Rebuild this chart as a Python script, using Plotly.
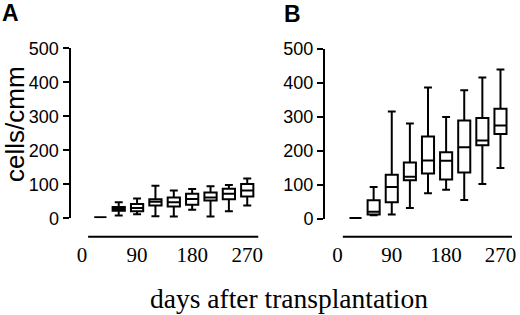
import plotly.graph_objects as go

W, H = 520, 315

# ---- data (cells/cmm, box statistics per time point) ----
days = [30, 60, 90, 120, 150, 180, 210, 240, 270]

a_min = [3, 8, 12, 6, 5, 25, 5, 21, 38]
a_q1 = [3, 22, 21, 38, 35, 40, 52, 56, 64]
a_med = [3, 27, 30, 49, 47, 57, 61, 72, 82]
a_q3 = [3, 33, 42, 56, 61, 72, 76, 87, 101]
a_max = [3, 47, 58, 96, 82, 86, 94, 98, 117]

b_min = [3, 11, 13, 32, 76, 86, 56, 103, 150]
b_q1 = [3, 13, 49, 114, 134, 116, 137, 217, 250]
b_med = [3, 21, 94, 124, 172, 171, 211, 231, 275]
b_q3 = [3, 55, 130, 166, 243, 196, 290, 297, 324]
b_max = [3, 94, 316, 281, 387, 300, 379, 416, 440]

y_ticks = [0, 100, 200, 300, 400, 500]
x_ticks = [0, 90, 180, 270]
x_tick_text = ["0", "90", "180", "270"]

panel_labels = ["A", "B"]
y_title = "cells/cmm"
x_title = "days after transplantation"


def px_x(p):
    return p / W


def px_y(p):
    return 1 - p / H


fig = go.Figure()

box_style = dict(
    line=dict(color="black", width=2),
    fillcolor="white",
    whiskerwidth=0.65,
    width=20,
    boxpoints=False,
    hoverinfo="skip",
    showlegend=False,
)

fig.add_trace(go.Box(x=days, q1=a_q1, median=a_med, q3=a_q3,
                     lowerfence=a_min, upperfence=a_max,
                     xaxis="x", yaxis="y", **box_style))
fig.add_trace(go.Box(x=days, q1=b_q1, median=b_med, q3=b_q3,
                     lowerfence=b_min, upperfence=b_max,
                     xaxis="x2", yaxis="y2", **box_style))

xr = [0, 290]
yfont = dict(family="Liberation Sans, Arial", size=18, color="black")
xfont = dict(family="Liberation Serif, Times New Roman", size=21, color="black")

yax = dict(range=[0, 500], tickvals=y_ticks, ticks="outside", ticklen=6,
           tickwidth=2, tickcolor="black", showline=True, linewidth=2,
           linecolor="black", showgrid=False, zeroline=False,
           tickfont=yfont, anchor="free", fixedrange=True, automargin=False)
xax = dict(range=xr, tickvals=x_ticks, ticktext=x_tick_text, ticks="",
           showline=False, showgrid=False, zeroline=False, tickfont=xfont,
           anchor="free", position=px_y(236.7), fixedrange=True,
           automargin=False, ticklabelstandoff=3)

fig.update_layout(
    template="none",
    width=W, height=H,
    margin=dict(l=0, r=0, t=0, b=0, autoexpand=False),
    paper_bgcolor="white", plot_bgcolor="white",
    xaxis=dict(domain=[px_x(82), px_x(82 + 290 * 0.612)], **xax),
    xaxis2=dict(domain=[px_x(337.4), px_x(337.4 + 290 * 0.604)], **xax),
    yaxis=dict(domain=[px_y(218.3), px_y(48.3)], position=px_x(69.5), **yax),
    yaxis2=dict(domain=[px_y(219), px_y(49)], position=px_x(324), **yax),
)

# separate baseline rules under each panel
for xref, (x0, x1) in (("x", (10, 288)), ("x2", (9, 289))):
    fig.add_shape(type="line", xref=xref, yref="paper", x0=x0, x1=x1,
                  y0=px_y(236.7), y1=px_y(236.7),
                  line=dict(color="black", width=2))

fig.add_annotation(text=panel_labels[0], x=px_x(10), y=px_y(13.5),
                   xref="paper", yref="paper", showarrow=False,
                   xanchor="center", yanchor="middle",
                   font=dict(family="Liberation Sans, Arial", size=23,
                             color="black", weight="bold"))
fig.add_annotation(text=panel_labels[1], x=px_x(292), y=px_y(13.7),
                   xref="paper", yref="paper", showarrow=False,
                   xanchor="center", yanchor="middle",
                   font=dict(family="Liberation Sans, Arial", size=23,
                             color="black", weight="bold"))
fig.add_annotation(text=y_title, x=px_x(15), y=px_y(124), xref="paper",
                   yref="paper", showarrow=False, textangle=-90,
                   xanchor="center", yanchor="middle",
                   font=dict(family="Liberation Sans, Arial", size=26,
                             color="black"))
fig.add_annotation(text=x_title, x=px_x(289), y=px_y(298), xref="paper",
                   yref="paper", showarrow=False, xanchor="center",
                   yanchor="middle",
                   font=dict(family="Liberation Serif, Times New Roman",
                             size=27.5, color="black"))

fig.write_html(
    "out.html",
    config={"displayModeBar": False, "staticPlot": True},
    post_script="document.body.style.margin='0';"
                "document.body.style.padding='0';"
                "document.body.style.overflow='hidden';",
)
